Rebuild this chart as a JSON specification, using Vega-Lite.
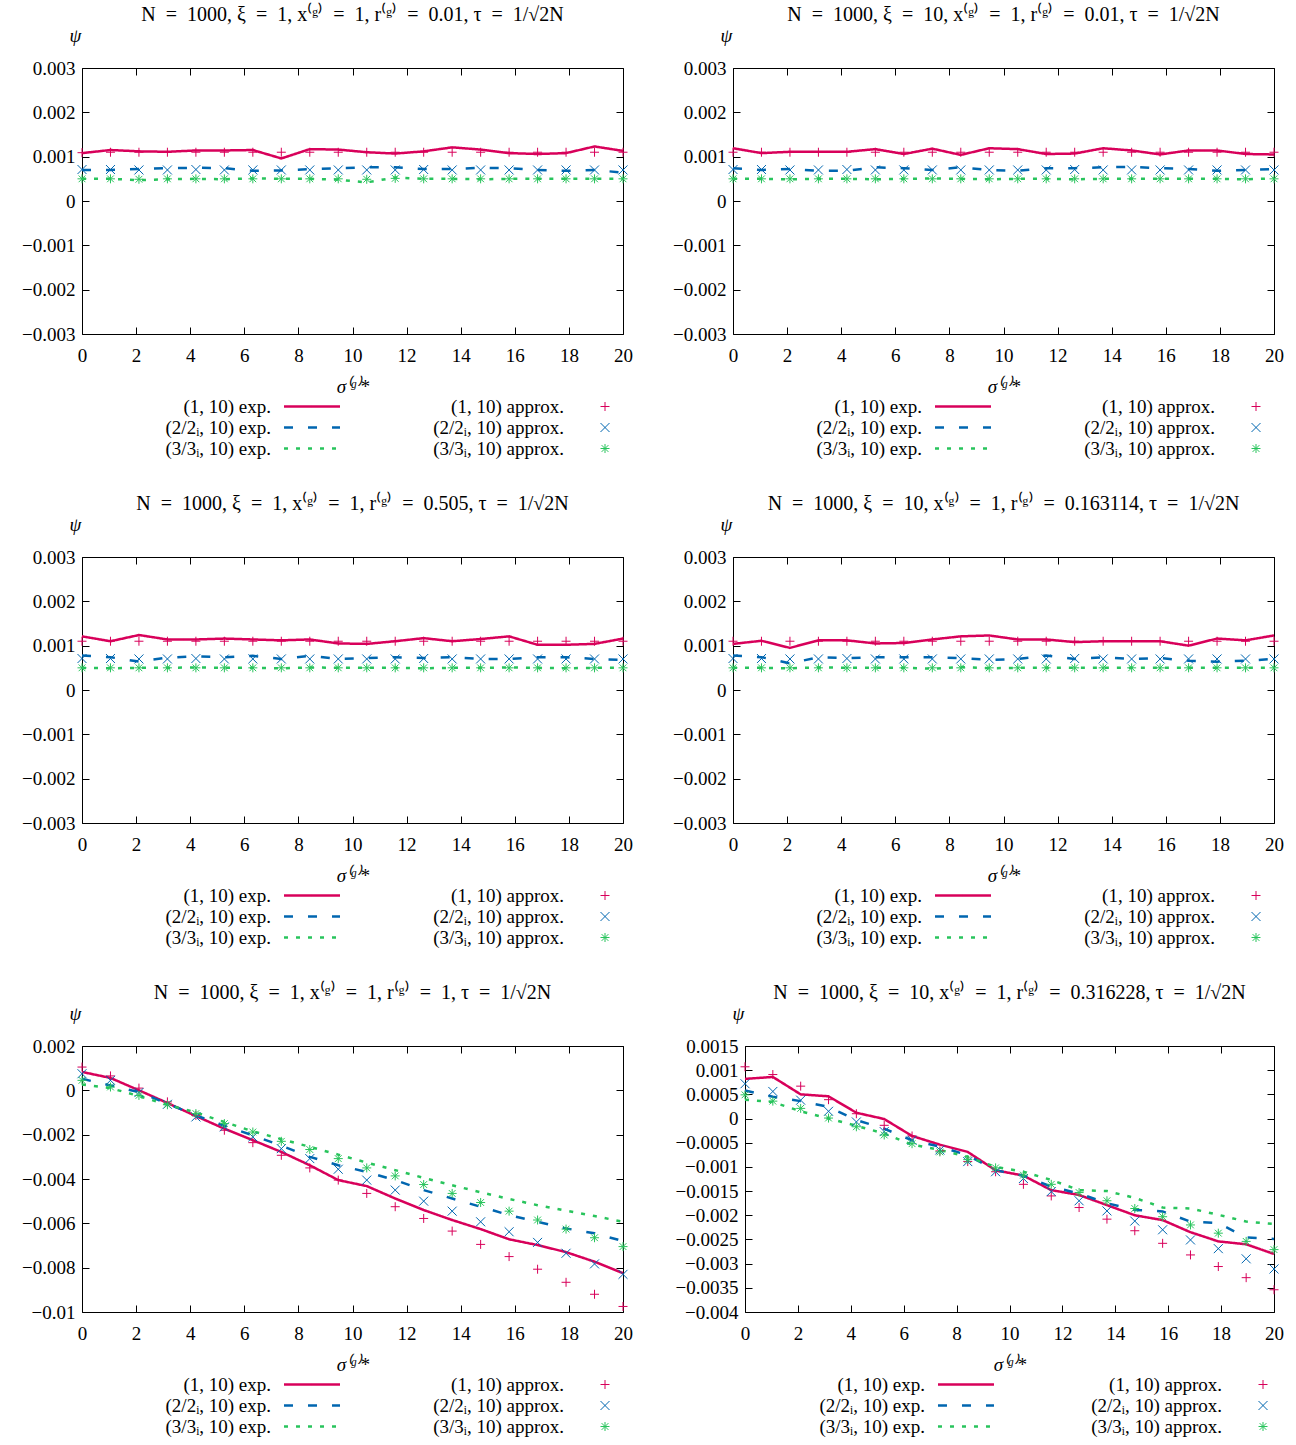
{
  "$schema": "https://vega.github.io/schema/vega-lite/v6.json",
  "padding": {"left": 21, "top": 4, "right": 5, "bottom": 5},
  "config": {
    "font": "Liberation Serif",
    "view": {"stroke": "black", "strokeWidth": 1},
    "axis": {"domain": false, "grid": false, "tickSize": -7, "tickColor": "black", "tickWidth": 1, "labelFont": "Liberation Serif", "labelFontSize": 19, "labelColor": "black", "labelPadding": 14, "labelFlush": false, "titleFont": "Liberation Serif", "titleFontSize": 19, "titleFontWeight": "normal", "titleColor": "black"},
    "axisLeft": {"titleAngle": 0, "titleX": -7, "titleY": -33, "titleAlign": "center", "titleBaseline": "middle", "titleFontStyle": "italic"},
    "axisBottom": {"labelPadding": 19, "titlePadding": 12, "titleFontStyle": "italic"},
    "title": {"font": "Liberation Serif", "fontSize": 20, "fontWeight": "normal", "color": "black", "anchor": "middle", "frame": "group", "offset": 1},
    "text": {"font": "Liberation Serif", "fontSize": 19, "color": "black"}
  },
  "datasets": {
    "p1": [
      {"x": 0, "e1": 0.00108, "e2": 0.0007, "e3": 0.0005, "a1": 0.00109, "a2": 0.00071, "a3": 0.0005},
      {"x": 1.0526, "e1": 0.00115, "e2": 0.0007, "e3": 0.0005, "a1": 0.0011, "a2": 0.00071, "a3": 0.0005},
      {"x": 2.1053, "e1": 0.00112, "e2": 0.00072, "e3": 0.00047, "a1": 0.0011, "a2": 0.0007, "a3": 0.00049},
      {"x": 3.1579, "e1": 0.00111, "e2": 0.00074, "e3": 0.00049, "a1": 0.0011, "a2": 0.0007, "a3": 0.0005},
      {"x": 4.2105, "e1": 0.00114, "e2": 0.00075, "e3": 0.0005, "a1": 0.0011, "a2": 0.00071, "a3": 0.0005},
      {"x": 5.2632, "e1": 0.00114, "e2": 0.00074, "e3": 0.00049, "a1": 0.0011, "a2": 0.0007, "a3": 0.0005},
      {"x": 6.3158, "e1": 0.00115, "e2": 0.00068, "e3": 0.00051, "a1": 0.0011, "a2": 0.0007, "a3": 0.0005},
      {"x": 7.3684, "e1": 0.00096, "e2": 0.00069, "e3": 0.0005, "a1": 0.0011, "a2": 0.0007, "a3": 0.0005},
      {"x": 8.4211, "e1": 0.00117, "e2": 0.00072, "e3": 0.0005, "a1": 0.0011, "a2": 0.0007, "a3": 0.0005},
      {"x": 9.4737, "e1": 0.00116, "e2": 0.00074, "e3": 0.00048, "a1": 0.0011, "a2": 0.0007, "a3": 0.0005},
      {"x": 10.5263, "e1": 0.0011, "e2": 0.00076, "e3": 0.00042, "a1": 0.0011, "a2": 0.0007, "a3": 0.00049},
      {"x": 11.5789, "e1": 0.00107, "e2": 0.00076, "e3": 0.00053, "a1": 0.0011, "a2": 0.0007, "a3": 0.00051},
      {"x": 12.6316, "e1": 0.00112, "e2": 0.00072, "e3": 0.0005, "a1": 0.0011, "a2": 0.00071, "a3": 0.0005},
      {"x": 13.6842, "e1": 0.00121, "e2": 0.00072, "e3": 0.0005, "a1": 0.0011, "a2": 0.0007, "a3": 0.0005},
      {"x": 14.7368, "e1": 0.00116, "e2": 0.00075, "e3": 0.00049, "a1": 0.0011, "a2": 0.0007, "a3": 0.0005},
      {"x": 15.7895, "e1": 0.00108, "e2": 0.00074, "e3": 0.0005, "a1": 0.0011, "a2": 0.0007, "a3": 0.0005},
      {"x": 16.8421, "e1": 0.00106, "e2": 0.0007, "e3": 0.0005, "a1": 0.0011, "a2": 0.0007, "a3": 0.0005},
      {"x": 17.8947, "e1": 0.00108, "e2": 0.00068, "e3": 0.0005, "a1": 0.0011, "a2": 0.0007, "a3": 0.0005},
      {"x": 18.9474, "e1": 0.00123, "e2": 0.0007, "e3": 0.0005, "a1": 0.0011, "a2": 0.0007, "a3": 0.0005},
      {"x": 20, "e1": 0.00113, "e2": 0.00064, "e3": 0.0005, "a1": 0.0011, "a2": 0.0007, "a3": 0.0005}
    ],
    "p2": [
      {"x": 0, "e1": 0.00119, "e2": 0.00074, "e3": 0.0005, "a1": 0.0011, "a2": 0.00071, "a3": 0.0005},
      {"x": 1.0526, "e1": 0.00108, "e2": 0.0007, "e3": 0.0005, "a1": 0.0011, "a2": 0.00071, "a3": 0.0005},
      {"x": 2.1053, "e1": 0.00111, "e2": 0.00072, "e3": 0.00049, "a1": 0.0011, "a2": 0.0007, "a3": 0.0005},
      {"x": 3.1579, "e1": 0.00111, "e2": 0.00068, "e3": 0.0005, "a1": 0.0011, "a2": 0.0007, "a3": 0.0005},
      {"x": 4.2105, "e1": 0.00111, "e2": 0.00068, "e3": 0.0005, "a1": 0.0011, "a2": 0.00071, "a3": 0.0005},
      {"x": 5.2632, "e1": 0.00117, "e2": 0.00076, "e3": 0.00049, "a1": 0.0011, "a2": 0.0007, "a3": 0.0005},
      {"x": 6.3158, "e1": 0.00106, "e2": 0.00074, "e3": 0.0005, "a1": 0.0011, "a2": 0.0007, "a3": 0.0005},
      {"x": 7.3684, "e1": 0.00118, "e2": 0.0007, "e3": 0.00051, "a1": 0.0011, "a2": 0.0007, "a3": 0.0005},
      {"x": 8.4211, "e1": 0.00104, "e2": 0.00076, "e3": 0.0005, "a1": 0.0011, "a2": 0.0007, "a3": 0.0005},
      {"x": 9.4737, "e1": 0.00119, "e2": 0.0007, "e3": 0.00049, "a1": 0.0011, "a2": 0.0007, "a3": 0.0005},
      {"x": 10.5263, "e1": 0.00117, "e2": 0.00068, "e3": 0.0005, "a1": 0.0011, "a2": 0.0007, "a3": 0.0005},
      {"x": 11.5789, "e1": 0.00106, "e2": 0.00074, "e3": 0.0005, "a1": 0.0011, "a2": 0.0007, "a3": 0.0005},
      {"x": 12.6316, "e1": 0.00107, "e2": 0.00074, "e3": 0.00049, "a1": 0.0011, "a2": 0.00071, "a3": 0.0005},
      {"x": 13.6842, "e1": 0.00119, "e2": 0.00076, "e3": 0.0005, "a1": 0.0011, "a2": 0.0007, "a3": 0.0005},
      {"x": 14.7368, "e1": 0.00114, "e2": 0.00077, "e3": 0.0005, "a1": 0.0011, "a2": 0.0007, "a3": 0.0005},
      {"x": 15.7895, "e1": 0.00105, "e2": 0.00074, "e3": 0.0005, "a1": 0.0011, "a2": 0.0007, "a3": 0.0005},
      {"x": 16.8421, "e1": 0.00114, "e2": 0.00072, "e3": 0.0005, "a1": 0.0011, "a2": 0.0007, "a3": 0.0005},
      {"x": 17.8947, "e1": 0.00114, "e2": 0.00068, "e3": 0.0005, "a1": 0.0011, "a2": 0.0007, "a3": 0.0005},
      {"x": 18.9474, "e1": 0.00106, "e2": 0.0007, "e3": 0.00049, "a1": 0.0011, "a2": 0.0007, "a3": 0.0005},
      {"x": 20, "e1": 0.00105, "e2": 0.00072, "e3": 0.00051, "a1": 0.0011, "a2": 0.0007, "a3": 0.0005}
    ],
    "p3": [
      {"x": 0, "e1": 0.00121, "e2": 0.00078, "e3": 0.0005, "a1": 0.0011, "a2": 0.00071, "a3": 0.0005},
      {"x": 1.0526, "e1": 0.0011, "e2": 0.00074, "e3": 0.00049, "a1": 0.0011, "a2": 0.00071, "a3": 0.0005},
      {"x": 2.1053, "e1": 0.00124, "e2": 0.00064, "e3": 0.0005, "a1": 0.0011, "a2": 0.0007, "a3": 0.0005},
      {"x": 3.1579, "e1": 0.00114, "e2": 0.00073, "e3": 0.0005, "a1": 0.0011, "a2": 0.0007, "a3": 0.0005},
      {"x": 4.2105, "e1": 0.00114, "e2": 0.00076, "e3": 0.00051, "a1": 0.0011, "a2": 0.00071, "a3": 0.0005},
      {"x": 5.2632, "e1": 0.00116, "e2": 0.00074, "e3": 0.0005, "a1": 0.0011, "a2": 0.0007, "a3": 0.0005},
      {"x": 6.3158, "e1": 0.00114, "e2": 0.00077, "e3": 0.0005, "a1": 0.0011, "a2": 0.0007, "a3": 0.0005},
      {"x": 7.3684, "e1": 0.00112, "e2": 0.0007, "e3": 0.00049, "a1": 0.0011, "a2": 0.0007, "a3": 0.0005},
      {"x": 8.4211, "e1": 0.00114, "e2": 0.00077, "e3": 0.00051, "a1": 0.0011, "a2": 0.0007, "a3": 0.0005},
      {"x": 9.4737, "e1": 0.00105, "e2": 0.0007, "e3": 0.0005, "a1": 0.0011, "a2": 0.0007, "a3": 0.0005},
      {"x": 10.5263, "e1": 0.00104, "e2": 0.00072, "e3": 0.0005, "a1": 0.0011, "a2": 0.0007, "a3": 0.0005},
      {"x": 11.5789, "e1": 0.0011, "e2": 0.00074, "e3": 0.0005, "a1": 0.0011, "a2": 0.0007, "a3": 0.0005},
      {"x": 12.6316, "e1": 0.00117, "e2": 0.00072, "e3": 0.00049, "a1": 0.0011, "a2": 0.00071, "a3": 0.0005},
      {"x": 13.6842, "e1": 0.0011, "e2": 0.00074, "e3": 0.0005, "a1": 0.0011, "a2": 0.0007, "a3": 0.0005},
      {"x": 14.7368, "e1": 0.00115, "e2": 0.0007, "e3": 0.0005, "a1": 0.0011, "a2": 0.0007, "a3": 0.0005},
      {"x": 15.7895, "e1": 0.00121, "e2": 0.0007, "e3": 0.00051, "a1": 0.0011, "a2": 0.0007, "a3": 0.0005},
      {"x": 16.8421, "e1": 0.00102, "e2": 0.00074, "e3": 0.0005, "a1": 0.0011, "a2": 0.0007, "a3": 0.0005},
      {"x": 17.8947, "e1": 0.00102, "e2": 0.00074, "e3": 0.00049, "a1": 0.0011, "a2": 0.0007, "a3": 0.0005},
      {"x": 18.9474, "e1": 0.00104, "e2": 0.0007, "e3": 0.0005, "a1": 0.0011, "a2": 0.0007, "a3": 0.0005},
      {"x": 20, "e1": 0.00116, "e2": 0.00068, "e3": 0.0005, "a1": 0.0011, "a2": 0.0007, "a3": 0.0005}
    ],
    "p4": [
      {"x": 0, "e1": 0.00104, "e2": 0.00078, "e3": 0.0005, "a1": 0.0011, "a2": 0.00071, "a3": 0.0005},
      {"x": 1.0526, "e1": 0.00111, "e2": 0.00074, "e3": 0.0005, "a1": 0.0011, "a2": 0.00071, "a3": 0.0005},
      {"x": 2.1053, "e1": 0.00095, "e2": 0.0006, "e3": 0.00049, "a1": 0.0011, "a2": 0.0007, "a3": 0.0005},
      {"x": 3.1579, "e1": 0.00112, "e2": 0.00074, "e3": 0.00051, "a1": 0.0011, "a2": 0.0007, "a3": 0.0005},
      {"x": 4.2105, "e1": 0.00112, "e2": 0.00072, "e3": 0.0005, "a1": 0.0011, "a2": 0.00071, "a3": 0.0005},
      {"x": 5.2632, "e1": 0.00105, "e2": 0.00074, "e3": 0.0005, "a1": 0.0011, "a2": 0.0007, "a3": 0.0005},
      {"x": 6.3158, "e1": 0.00106, "e2": 0.00074, "e3": 0.0005, "a1": 0.0011, "a2": 0.0007, "a3": 0.0005},
      {"x": 7.3684, "e1": 0.00114, "e2": 0.00074, "e3": 0.00048, "a1": 0.0011, "a2": 0.0007, "a3": 0.0005},
      {"x": 8.4211, "e1": 0.00121, "e2": 0.00072, "e3": 0.00052, "a1": 0.0011, "a2": 0.0007, "a3": 0.0005},
      {"x": 9.4737, "e1": 0.00123, "e2": 0.00068, "e3": 0.00049, "a1": 0.0011, "a2": 0.0007, "a3": 0.0005},
      {"x": 10.5263, "e1": 0.00114, "e2": 0.0007, "e3": 0.0005, "a1": 0.0011, "a2": 0.0007, "a3": 0.0005},
      {"x": 11.5789, "e1": 0.00114, "e2": 0.00078, "e3": 0.0005, "a1": 0.0011, "a2": 0.0007, "a3": 0.0005},
      {"x": 12.6316, "e1": 0.00108, "e2": 0.0007, "e3": 0.0005, "a1": 0.0011, "a2": 0.00071, "a3": 0.0005},
      {"x": 13.6842, "e1": 0.0011, "e2": 0.00074, "e3": 0.0005, "a1": 0.0011, "a2": 0.0007, "a3": 0.0005},
      {"x": 14.7368, "e1": 0.0011, "e2": 0.0007, "e3": 0.0005, "a1": 0.0011, "a2": 0.0007, "a3": 0.0005},
      {"x": 15.7895, "e1": 0.0011, "e2": 0.00072, "e3": 0.0005, "a1": 0.0011, "a2": 0.0007, "a3": 0.0005},
      {"x": 16.8421, "e1": 0.001, "e2": 0.00066, "e3": 0.0005, "a1": 0.0011, "a2": 0.0007, "a3": 0.0005},
      {"x": 17.8947, "e1": 0.00116, "e2": 0.00064, "e3": 0.0005, "a1": 0.0011, "a2": 0.0007, "a3": 0.0005},
      {"x": 18.9474, "e1": 0.00112, "e2": 0.00066, "e3": 0.0005, "a1": 0.0011, "a2": 0.0007, "a3": 0.0005},
      {"x": 20, "e1": 0.00123, "e2": 0.0007, "e3": 0.0005, "a1": 0.0011, "a2": 0.0007, "a3": 0.0005}
    ],
    "p5": [
      {"x": 0, "e1": 0.00083, "e2": 0.00052, "e3": 0.00026, "a1": 0.00105, "a2": 0.00075, "a3": 0.00045},
      {"x": 1.0526, "e1": 0.00056, "e2": 0.00022, "e3": 0.0001, "a1": 0.00065, "a2": 0.00045, "a3": 0.00015},
      {"x": 2.1053, "e1": 0.0, "e2": -0.00008, "e3": -0.00026, "a1": 0.0001, "a2": -0.0001, "a3": -0.00023},
      {"x": 3.1579, "e1": -0.00057, "e2": -0.0006, "e3": -0.00065, "a1": -0.00052, "a2": -0.00063, "a3": -0.00065},
      {"x": 4.2105, "e1": -0.00116, "e2": -0.00113, "e3": -0.001, "a1": -0.00113, "a2": -0.0012, "a3": -0.00105},
      {"x": 5.2632, "e1": -0.00173, "e2": -0.0016, "e3": -0.00143, "a1": -0.0018, "a2": -0.00165, "a3": -0.0015},
      {"x": 6.3158, "e1": -0.00225, "e2": -0.00203, "e3": -0.00185, "a1": -0.00236, "a2": -0.0021, "a3": -0.00188},
      {"x": 7.3684, "e1": -0.00278, "e2": -0.0025, "e3": -0.0022, "a1": -0.00293, "a2": -0.00263, "a3": -0.0023},
      {"x": 8.4211, "e1": -0.00338, "e2": -0.003, "e3": -0.00255, "a1": -0.0035, "a2": -0.00308, "a3": -0.00267},
      {"x": 9.4737, "e1": -0.00405, "e2": -0.00338, "e3": -0.0029, "a1": -0.00405, "a2": -0.00356, "a3": -0.00308},
      {"x": 10.5263, "e1": -0.00432, "e2": -0.00368, "e3": -0.00326, "a1": -0.00465, "a2": -0.00405, "a3": -0.0035},
      {"x": 11.5789, "e1": -0.00488, "e2": -0.00405, "e3": -0.0036, "a1": -0.00525, "a2": -0.0045, "a3": -0.00386},
      {"x": 12.6316, "e1": -0.0054, "e2": -0.0045, "e3": -0.00395, "a1": -0.00578, "a2": -0.005, "a3": -0.00425},
      {"x": 13.6842, "e1": -0.00585, "e2": -0.00488, "e3": -0.00428, "a1": -0.00635, "a2": -0.00545, "a3": -0.00465},
      {"x": 14.7368, "e1": -0.00626, "e2": -0.00525, "e3": -0.0046, "a1": -0.00695, "a2": -0.00593, "a3": -0.00506},
      {"x": 15.7895, "e1": -0.00672, "e2": -0.00563, "e3": -0.0049, "a1": -0.0075, "a2": -0.00638, "a3": -0.00545},
      {"x": 16.8421, "e1": -0.00698, "e2": -0.00593, "e3": -0.00518, "a1": -0.00807, "a2": -0.00686, "a3": -0.00585},
      {"x": 17.8947, "e1": -0.0073, "e2": -0.00623, "e3": -0.00543, "a1": -0.00866, "a2": -0.00735, "a3": -0.00626},
      {"x": 18.9474, "e1": -0.00773, "e2": -0.00645, "e3": -0.00567, "a1": -0.0092, "a2": -0.00783, "a3": -0.00665},
      {"x": 20, "e1": -0.00825, "e2": -0.0068, "e3": -0.00593, "a1": -0.00975, "a2": -0.0083, "a3": -0.00705}
    ],
    "p6": [
      {"x": 0, "e1": 0.00082, "e2": 0.00058, "e3": 0.00039, "a1": 0.00107, "a2": 0.00072, "a3": 0.00049},
      {"x": 1.0526, "e1": 0.00086, "e2": 0.00045, "e3": 0.00034, "a1": 0.00091, "a2": 0.00056, "a3": 0.00036},
      {"x": 2.1053, "e1": 0.0005, "e2": 0.00036, "e3": 0.00015, "a1": 0.00067, "a2": 0.00038, "a3": 0.00021},
      {"x": 3.1579, "e1": 0.00046, "e2": 0.00024, "e3": 0.0, "a1": 0.00039, "a2": 0.00015, "a3": 0.00001},
      {"x": 4.2105, "e1": 0.00012, "e2": -0.00003, "e3": -0.00015, "a1": 0.0001, "a2": -0.00007, "a3": -0.00017},
      {"x": 5.2632, "e1": -0.00001, "e2": -0.00021, "e3": -0.00031, "a1": -0.00014, "a2": -0.00027, "a3": -0.00034},
      {"x": 6.3158, "e1": -0.00036, "e2": -0.00045, "e3": -0.00054, "a1": -0.00036, "a2": -0.00045, "a3": -0.00052},
      {"x": 7.3684, "e1": -0.00054, "e2": -0.00058, "e3": -0.00065, "a1": -0.00067, "a2": -0.00065, "a3": -0.00069},
      {"x": 8.4211, "e1": -0.00069, "e2": -0.00076, "e3": -0.00079, "a1": -0.00089, "a2": -0.00089, "a3": -0.00085},
      {"x": 9.4737, "e1": -0.00107, "e2": -0.00107, "e3": -0.001, "a1": -0.0011, "a2": -0.0011, "a3": -0.00102},
      {"x": 10.5263, "e1": -0.00118, "e2": -0.00118, "e3": -0.0011, "a1": -0.00136, "a2": -0.00124, "a3": -0.00117},
      {"x": 11.5789, "e1": -0.00148, "e2": -0.00141, "e3": -0.00127, "a1": -0.0016, "a2": -0.00151, "a3": -0.00136},
      {"x": 12.6316, "e1": -0.00158, "e2": -0.00155, "e3": -0.00148, "a1": -0.00184, "a2": -0.0017, "a3": -0.00153},
      {"x": 13.6842, "e1": -0.00179, "e2": -0.00175, "e3": -0.0015, "a1": -0.00208, "a2": -0.00191, "a3": -0.0017},
      {"x": 14.7368, "e1": -0.002, "e2": -0.00189, "e3": -0.00164, "a1": -0.00232, "a2": -0.00212, "a3": -0.00186},
      {"x": 15.7895, "e1": -0.0021, "e2": -0.00192, "e3": -0.00184, "a1": -0.00258, "a2": -0.0023, "a3": -0.00203},
      {"x": 16.8421, "e1": -0.00235, "e2": -0.00213, "e3": -0.00186, "a1": -0.00282, "a2": -0.00251, "a3": -0.0022},
      {"x": 17.8947, "e1": -0.00254, "e2": -0.00216, "e3": -0.00199, "a1": -0.00306, "a2": -0.00269, "a3": -0.00237},
      {"x": 18.9474, "e1": -0.0026, "e2": -0.00246, "e3": -0.00213, "a1": -0.00329, "a2": -0.0029, "a3": -0.00254},
      {"x": 20, "e1": -0.0028, "e2": -0.00249, "e3": -0.00218, "a1": -0.00354, "a2": -0.00311, "a3": -0.00271}
    ],
    "key": [
      {"col": 0, "row": 0, "series": "e1", "label": "(1, 10) exp."},
      {"col": 0, "row": 1, "series": "e2", "label": "(2/2ᵢ, 10) exp."},
      {"col": 0, "row": 2, "series": "e3", "label": "(3/3ᵢ, 10) exp."},
      {"col": 1, "row": 0, "series": "a1", "label": "(1, 10) approx."},
      {"col": 1, "row": 1, "series": "a2", "label": "(2/2ᵢ, 10) approx."},
      {"col": 1, "row": 2, "series": "a3", "label": "(3/3ᵢ, 10) approx."}
    ]
  },
  "spacing": 34,
  "vconcat": [
    {"spacing": 39, "hconcat": [
      {"bounds": "flush", "spacing": 62, "vconcat": [
        {"width": 541, "height": 266, "title": "N\u2002=\u20021000, ξ\u2002=\u20021, x⁽ᵍ⁾\u2002=\u20021, r⁽ᵍ⁾\u2002=\u20020.01, τ\u2002=\u20021/√2N", "data": {"name": "p1"},
         "layer": [
          {"transform": [{"fold": ["e1", "e2", "e3"], "as": ["series", "v"]}], "mark": {"type": "line", "strokeWidth": 2.5},
           "encoding": {
            "x": {"field": "x", "type": "quantitative", "scale": {"domain": [0, 20]}, "axis": {"orient": "bottom", "values": [0, 2, 4, 6, 8, 10, 12, 14, 16, 18, 20], "title": "σ⁽ᵍ⁾*"}},
            "y": {"field": "v", "type": "quantitative", "scale": {"domain": [-0.003, 0.003]}, "axis": {"orient": "left", "values": [-0.003, -0.002, -0.001, 0, 0.001, 0.002, 0.003], "format": "~f", "title": "ψ"}},
            "color": {"field": "series", "type": "nominal", "scale": {"domain": ["e1", "e2", "e3", "a1", "a2", "a3"], "range": ["#d8005a", "#0066b0", "#28c45c", "#d8005a", "#0066b0", "#28c45c"]}, "legend": null},
            "strokeDash": {"field": "series", "type": "nominal", "scale": {"domain": ["e1", "e2", "e3"], "range": [[1, 0], [9, 15], [4, 8]]}, "legend": null}}},
          {"transform": [{"fold": ["a1", "a2", "a3"], "as": ["series", "v"]}], "mark": {"type": "point", "size": 81, "strokeWidth": 1, "opacity": 1},
           "encoding": {
            "x": {"field": "x", "type": "quantitative", "scale": {"domain": [0, 20]}, "axis": {"orient": "top", "values": [0, 2, 4, 6, 8, 10, 12, 14, 16, 18, 20], "labels": false, "title": null}},
            "y": {"field": "v", "type": "quantitative", "scale": {"domain": [-0.003, 0.003]}, "axis": {"orient": "right", "values": [-0.003, -0.002, -0.001, 0, 0.001, 0.002, 0.003], "labels": false, "title": null}},
            "color": {"field": "series", "type": "nominal", "scale": {"domain": ["e1", "e2", "e3", "a1", "a2", "a3"], "range": ["#d8005a", "#0066b0", "#28c45c", "#d8005a", "#0066b0", "#28c45c"]}, "legend": null},
            "shape": {"field": "series", "type": "nominal", "scale": {"domain": ["a1", "a2", "a3"], "range": ["M-1,0L1,0M0,-1L0,1", "M-1,-1L1,1M-1,1L1,-1", "M-1,0L1,0M0,-1L0,1M-0.75,-0.75L0.75,0.75M-0.75,0.75L0.75,-0.75"]}, "legend": null}}}
         ],
         "resolve": {"axis": {"x": "independent", "y": "independent"}}},
        {"width": 541, "height": 63, "view": {"stroke": null}, "data": {"name": "key"},
         "encoding": {
          "x": {"field": "col", "type": "quantitative", "scale": {"domain": [-0.785, 1.0614]}, "axis": null},
          "y": {"field": "row", "type": "quantitative", "scale": {"domain": [2.5, -0.5]}, "axis": null}},
         "layer": [
          {"mark": {"type": "text", "align": "right", "baseline": "middle", "dx": -41}, "encoding": {"text": {"field": "label"}}},
          {"transform": [{"filter": {"field": "col", "equal": 0}}], "mark": {"type": "point", "shape": "stroke", "size": 3136, "strokeWidth": 2.5, "opacity": 1},
           "encoding": {
            "color": {"field": "series", "type": "nominal", "scale": {"domain": ["e1", "e2", "e3", "a1", "a2", "a3"], "range": ["#d8005a", "#0066b0", "#28c45c", "#d8005a", "#0066b0", "#28c45c"]}, "legend": null},
            "strokeDash": {"field": "series", "type": "nominal", "scale": {"domain": ["e1", "e2", "e3"], "range": [[1, 0], [9, 15], [4, 8]]}, "legend": null}}},
          {"transform": [{"filter": {"field": "col", "equal": 1}}], "mark": {"type": "point", "size": 81, "strokeWidth": 1, "opacity": 1},
           "encoding": {
            "color": {"field": "series", "type": "nominal", "scale": {"domain": ["e1", "e2", "e3", "a1", "a2", "a3"], "range": ["#d8005a", "#0066b0", "#28c45c", "#d8005a", "#0066b0", "#28c45c"]}, "legend": null},
            "shape": {"field": "series", "type": "nominal", "scale": {"domain": ["a1", "a2", "a3"], "range": ["M-1,0L1,0M0,-1L0,1", "M-1,-1L1,1M-1,1L1,-1", "M-1,0L1,0M0,-1L0,1M-0.75,-0.75L0.75,0.75M-0.75,0.75L0.75,-0.75"]}, "legend": null}}}
         ]}
      ]},
      {"bounds": "flush", "spacing": 62, "vconcat": [
        {"width": 541, "height": 266, "title": "N\u2002=\u20021000, ξ\u2002=\u200210, x⁽ᵍ⁾\u2002=\u20021, r⁽ᵍ⁾\u2002=\u20020.01, τ\u2002=\u20021/√2N", "data": {"name": "p2"},
         "layer": [
          {"transform": [{"fold": ["e1", "e2", "e3"], "as": ["series", "v"]}], "mark": {"type": "line", "strokeWidth": 2.5},
           "encoding": {
            "x": {"field": "x", "type": "quantitative", "scale": {"domain": [0, 20]}, "axis": {"orient": "bottom", "values": [0, 2, 4, 6, 8, 10, 12, 14, 16, 18, 20], "title": "σ⁽ᵍ⁾*"}},
            "y": {"field": "v", "type": "quantitative", "scale": {"domain": [-0.003, 0.003]}, "axis": {"orient": "left", "values": [-0.003, -0.002, -0.001, 0, 0.001, 0.002, 0.003], "format": "~f", "title": "ψ"}},
            "color": {"field": "series", "type": "nominal", "scale": {"domain": ["e1", "e2", "e3", "a1", "a2", "a3"], "range": ["#d8005a", "#0066b0", "#28c45c", "#d8005a", "#0066b0", "#28c45c"]}, "legend": null},
            "strokeDash": {"field": "series", "type": "nominal", "scale": {"domain": ["e1", "e2", "e3"], "range": [[1, 0], [9, 15], [4, 8]]}, "legend": null}}},
          {"transform": [{"fold": ["a1", "a2", "a3"], "as": ["series", "v"]}], "mark": {"type": "point", "size": 81, "strokeWidth": 1, "opacity": 1},
           "encoding": {
            "x": {"field": "x", "type": "quantitative", "scale": {"domain": [0, 20]}, "axis": {"orient": "top", "values": [0, 2, 4, 6, 8, 10, 12, 14, 16, 18, 20], "labels": false, "title": null}},
            "y": {"field": "v", "type": "quantitative", "scale": {"domain": [-0.003, 0.003]}, "axis": {"orient": "right", "values": [-0.003, -0.002, -0.001, 0, 0.001, 0.002, 0.003], "labels": false, "title": null}},
            "color": {"field": "series", "type": "nominal", "scale": {"domain": ["e1", "e2", "e3", "a1", "a2", "a3"], "range": ["#d8005a", "#0066b0", "#28c45c", "#d8005a", "#0066b0", "#28c45c"]}, "legend": null},
            "shape": {"field": "series", "type": "nominal", "scale": {"domain": ["a1", "a2", "a3"], "range": ["M-1,0L1,0M0,-1L0,1", "M-1,-1L1,1M-1,1L1,-1", "M-1,0L1,0M0,-1L0,1M-0.75,-0.75L0.75,0.75M-0.75,0.75L0.75,-0.75"]}, "legend": null}}}
         ],
         "resolve": {"axis": {"x": "independent", "y": "independent"}}},
        {"width": 541, "height": 63, "view": {"stroke": null}, "data": {"name": "key"},
         "encoding": {
          "x": {"field": "col", "type": "quantitative", "scale": {"domain": [-0.785, 1.0614]}, "axis": null},
          "y": {"field": "row", "type": "quantitative", "scale": {"domain": [2.5, -0.5]}, "axis": null}},
         "layer": [
          {"mark": {"type": "text", "align": "right", "baseline": "middle", "dx": -41}, "encoding": {"text": {"field": "label"}}},
          {"transform": [{"filter": {"field": "col", "equal": 0}}], "mark": {"type": "point", "shape": "stroke", "size": 3136, "strokeWidth": 2.5, "opacity": 1},
           "encoding": {
            "color": {"field": "series", "type": "nominal", "scale": {"domain": ["e1", "e2", "e3", "a1", "a2", "a3"], "range": ["#d8005a", "#0066b0", "#28c45c", "#d8005a", "#0066b0", "#28c45c"]}, "legend": null},
            "strokeDash": {"field": "series", "type": "nominal", "scale": {"domain": ["e1", "e2", "e3"], "range": [[1, 0], [9, 15], [4, 8]]}, "legend": null}}},
          {"transform": [{"filter": {"field": "col", "equal": 1}}], "mark": {"type": "point", "size": 81, "strokeWidth": 1, "opacity": 1},
           "encoding": {
            "color": {"field": "series", "type": "nominal", "scale": {"domain": ["e1", "e2", "e3", "a1", "a2", "a3"], "range": ["#d8005a", "#0066b0", "#28c45c", "#d8005a", "#0066b0", "#28c45c"]}, "legend": null},
            "shape": {"field": "series", "type": "nominal", "scale": {"domain": ["a1", "a2", "a3"], "range": ["M-1,0L1,0M0,-1L0,1", "M-1,-1L1,1M-1,1L1,-1", "M-1,0L1,0M0,-1L0,1M-0.75,-0.75L0.75,0.75M-0.75,0.75L0.75,-0.75"]}, "legend": null}}}
         ]}
      ]}
    ]},
    {"spacing": 39, "hconcat": [
      {"bounds": "flush", "spacing": 62, "vconcat": [
        {"width": 541, "height": 266, "title": "N\u2002=\u20021000, ξ\u2002=\u20021, x⁽ᵍ⁾\u2002=\u20021, r⁽ᵍ⁾\u2002=\u20020.505, τ\u2002=\u20021/√2N", "data": {"name": "p3"},
         "layer": [
          {"transform": [{"fold": ["e1", "e2", "e3"], "as": ["series", "v"]}], "mark": {"type": "line", "strokeWidth": 2.5},
           "encoding": {
            "x": {"field": "x", "type": "quantitative", "scale": {"domain": [0, 20]}, "axis": {"orient": "bottom", "values": [0, 2, 4, 6, 8, 10, 12, 14, 16, 18, 20], "title": "σ⁽ᵍ⁾*"}},
            "y": {"field": "v", "type": "quantitative", "scale": {"domain": [-0.003, 0.003]}, "axis": {"orient": "left", "values": [-0.003, -0.002, -0.001, 0, 0.001, 0.002, 0.003], "format": "~f", "title": "ψ"}},
            "color": {"field": "series", "type": "nominal", "scale": {"domain": ["e1", "e2", "e3", "a1", "a2", "a3"], "range": ["#d8005a", "#0066b0", "#28c45c", "#d8005a", "#0066b0", "#28c45c"]}, "legend": null},
            "strokeDash": {"field": "series", "type": "nominal", "scale": {"domain": ["e1", "e2", "e3"], "range": [[1, 0], [9, 15], [4, 8]]}, "legend": null}}},
          {"transform": [{"fold": ["a1", "a2", "a3"], "as": ["series", "v"]}], "mark": {"type": "point", "size": 81, "strokeWidth": 1, "opacity": 1},
           "encoding": {
            "x": {"field": "x", "type": "quantitative", "scale": {"domain": [0, 20]}, "axis": {"orient": "top", "values": [0, 2, 4, 6, 8, 10, 12, 14, 16, 18, 20], "labels": false, "title": null}},
            "y": {"field": "v", "type": "quantitative", "scale": {"domain": [-0.003, 0.003]}, "axis": {"orient": "right", "values": [-0.003, -0.002, -0.001, 0, 0.001, 0.002, 0.003], "labels": false, "title": null}},
            "color": {"field": "series", "type": "nominal", "scale": {"domain": ["e1", "e2", "e3", "a1", "a2", "a3"], "range": ["#d8005a", "#0066b0", "#28c45c", "#d8005a", "#0066b0", "#28c45c"]}, "legend": null},
            "shape": {"field": "series", "type": "nominal", "scale": {"domain": ["a1", "a2", "a3"], "range": ["M-1,0L1,0M0,-1L0,1", "M-1,-1L1,1M-1,1L1,-1", "M-1,0L1,0M0,-1L0,1M-0.75,-0.75L0.75,0.75M-0.75,0.75L0.75,-0.75"]}, "legend": null}}}
         ],
         "resolve": {"axis": {"x": "independent", "y": "independent"}}},
        {"width": 541, "height": 63, "view": {"stroke": null}, "data": {"name": "key"},
         "encoding": {
          "x": {"field": "col", "type": "quantitative", "scale": {"domain": [-0.785, 1.0614]}, "axis": null},
          "y": {"field": "row", "type": "quantitative", "scale": {"domain": [2.5, -0.5]}, "axis": null}},
         "layer": [
          {"mark": {"type": "text", "align": "right", "baseline": "middle", "dx": -41}, "encoding": {"text": {"field": "label"}}},
          {"transform": [{"filter": {"field": "col", "equal": 0}}], "mark": {"type": "point", "shape": "stroke", "size": 3136, "strokeWidth": 2.5, "opacity": 1},
           "encoding": {
            "color": {"field": "series", "type": "nominal", "scale": {"domain": ["e1", "e2", "e3", "a1", "a2", "a3"], "range": ["#d8005a", "#0066b0", "#28c45c", "#d8005a", "#0066b0", "#28c45c"]}, "legend": null},
            "strokeDash": {"field": "series", "type": "nominal", "scale": {"domain": ["e1", "e2", "e3"], "range": [[1, 0], [9, 15], [4, 8]]}, "legend": null}}},
          {"transform": [{"filter": {"field": "col", "equal": 1}}], "mark": {"type": "point", "size": 81, "strokeWidth": 1, "opacity": 1},
           "encoding": {
            "color": {"field": "series", "type": "nominal", "scale": {"domain": ["e1", "e2", "e3", "a1", "a2", "a3"], "range": ["#d8005a", "#0066b0", "#28c45c", "#d8005a", "#0066b0", "#28c45c"]}, "legend": null},
            "shape": {"field": "series", "type": "nominal", "scale": {"domain": ["a1", "a2", "a3"], "range": ["M-1,0L1,0M0,-1L0,1", "M-1,-1L1,1M-1,1L1,-1", "M-1,0L1,0M0,-1L0,1M-0.75,-0.75L0.75,0.75M-0.75,0.75L0.75,-0.75"]}, "legend": null}}}
         ]}
      ]},
      {"bounds": "flush", "spacing": 62, "vconcat": [
        {"width": 541, "height": 266, "title": "N\u2002=\u20021000, ξ\u2002=\u200210, x⁽ᵍ⁾\u2002=\u20021, r⁽ᵍ⁾\u2002=\u20020.163114, τ\u2002=\u20021/√2N", "data": {"name": "p4"},
         "layer": [
          {"transform": [{"fold": ["e1", "e2", "e3"], "as": ["series", "v"]}], "mark": {"type": "line", "strokeWidth": 2.5},
           "encoding": {
            "x": {"field": "x", "type": "quantitative", "scale": {"domain": [0, 20]}, "axis": {"orient": "bottom", "values": [0, 2, 4, 6, 8, 10, 12, 14, 16, 18, 20], "title": "σ⁽ᵍ⁾*"}},
            "y": {"field": "v", "type": "quantitative", "scale": {"domain": [-0.003, 0.003]}, "axis": {"orient": "left", "values": [-0.003, -0.002, -0.001, 0, 0.001, 0.002, 0.003], "format": "~f", "title": "ψ"}},
            "color": {"field": "series", "type": "nominal", "scale": {"domain": ["e1", "e2", "e3", "a1", "a2", "a3"], "range": ["#d8005a", "#0066b0", "#28c45c", "#d8005a", "#0066b0", "#28c45c"]}, "legend": null},
            "strokeDash": {"field": "series", "type": "nominal", "scale": {"domain": ["e1", "e2", "e3"], "range": [[1, 0], [9, 15], [4, 8]]}, "legend": null}}},
          {"transform": [{"fold": ["a1", "a2", "a3"], "as": ["series", "v"]}], "mark": {"type": "point", "size": 81, "strokeWidth": 1, "opacity": 1},
           "encoding": {
            "x": {"field": "x", "type": "quantitative", "scale": {"domain": [0, 20]}, "axis": {"orient": "top", "values": [0, 2, 4, 6, 8, 10, 12, 14, 16, 18, 20], "labels": false, "title": null}},
            "y": {"field": "v", "type": "quantitative", "scale": {"domain": [-0.003, 0.003]}, "axis": {"orient": "right", "values": [-0.003, -0.002, -0.001, 0, 0.001, 0.002, 0.003], "labels": false, "title": null}},
            "color": {"field": "series", "type": "nominal", "scale": {"domain": ["e1", "e2", "e3", "a1", "a2", "a3"], "range": ["#d8005a", "#0066b0", "#28c45c", "#d8005a", "#0066b0", "#28c45c"]}, "legend": null},
            "shape": {"field": "series", "type": "nominal", "scale": {"domain": ["a1", "a2", "a3"], "range": ["M-1,0L1,0M0,-1L0,1", "M-1,-1L1,1M-1,1L1,-1", "M-1,0L1,0M0,-1L0,1M-0.75,-0.75L0.75,0.75M-0.75,0.75L0.75,-0.75"]}, "legend": null}}}
         ],
         "resolve": {"axis": {"x": "independent", "y": "independent"}}},
        {"width": 541, "height": 63, "view": {"stroke": null}, "data": {"name": "key"},
         "encoding": {
          "x": {"field": "col", "type": "quantitative", "scale": {"domain": [-0.785, 1.0614]}, "axis": null},
          "y": {"field": "row", "type": "quantitative", "scale": {"domain": [2.5, -0.5]}, "axis": null}},
         "layer": [
          {"mark": {"type": "text", "align": "right", "baseline": "middle", "dx": -41}, "encoding": {"text": {"field": "label"}}},
          {"transform": [{"filter": {"field": "col", "equal": 0}}], "mark": {"type": "point", "shape": "stroke", "size": 3136, "strokeWidth": 2.5, "opacity": 1},
           "encoding": {
            "color": {"field": "series", "type": "nominal", "scale": {"domain": ["e1", "e2", "e3", "a1", "a2", "a3"], "range": ["#d8005a", "#0066b0", "#28c45c", "#d8005a", "#0066b0", "#28c45c"]}, "legend": null},
            "strokeDash": {"field": "series", "type": "nominal", "scale": {"domain": ["e1", "e2", "e3"], "range": [[1, 0], [9, 15], [4, 8]]}, "legend": null}}},
          {"transform": [{"filter": {"field": "col", "equal": 1}}], "mark": {"type": "point", "size": 81, "strokeWidth": 1, "opacity": 1},
           "encoding": {
            "color": {"field": "series", "type": "nominal", "scale": {"domain": ["e1", "e2", "e3", "a1", "a2", "a3"], "range": ["#d8005a", "#0066b0", "#28c45c", "#d8005a", "#0066b0", "#28c45c"]}, "legend": null},
            "shape": {"field": "series", "type": "nominal", "scale": {"domain": ["a1", "a2", "a3"], "range": ["M-1,0L1,0M0,-1L0,1", "M-1,-1L1,1M-1,1L1,-1", "M-1,0L1,0M0,-1L0,1M-0.75,-0.75L0.75,0.75M-0.75,0.75L0.75,-0.75"]}, "legend": null}}}
         ]}
      ]}
    ]},
    {"spacing": 41, "hconcat": [
      {"bounds": "flush", "spacing": 62, "vconcat": [
        {"width": 541, "height": 266, "title": "N\u2002=\u20021000, ξ\u2002=\u20021, x⁽ᵍ⁾\u2002=\u20021, r⁽ᵍ⁾\u2002=\u20021, τ\u2002=\u20021/√2N", "data": {"name": "p5"},
         "layer": [
          {"transform": [{"fold": ["e1", "e2", "e3"], "as": ["series", "v"]}], "mark": {"type": "line", "strokeWidth": 2.5},
           "encoding": {
            "x": {"field": "x", "type": "quantitative", "scale": {"domain": [0, 20]}, "axis": {"orient": "bottom", "values": [0, 2, 4, 6, 8, 10, 12, 14, 16, 18, 20], "title": "σ⁽ᵍ⁾*"}},
            "y": {"field": "v", "type": "quantitative", "scale": {"domain": [-0.01, 0.002]}, "axis": {"orient": "left", "values": [-0.01, -0.008, -0.006, -0.004, -0.002, 0, 0.002], "format": "~f", "title": "ψ"}},
            "color": {"field": "series", "type": "nominal", "scale": {"domain": ["e1", "e2", "e3", "a1", "a2", "a3"], "range": ["#d8005a", "#0066b0", "#28c45c", "#d8005a", "#0066b0", "#28c45c"]}, "legend": null},
            "strokeDash": {"field": "series", "type": "nominal", "scale": {"domain": ["e1", "e2", "e3"], "range": [[1, 0], [9, 15], [4, 8]]}, "legend": null}}},
          {"transform": [{"fold": ["a1", "a2", "a3"], "as": ["series", "v"]}], "mark": {"type": "point", "size": 81, "strokeWidth": 1, "opacity": 1},
           "encoding": {
            "x": {"field": "x", "type": "quantitative", "scale": {"domain": [0, 20]}, "axis": {"orient": "top", "values": [0, 2, 4, 6, 8, 10, 12, 14, 16, 18, 20], "labels": false, "title": null}},
            "y": {"field": "v", "type": "quantitative", "scale": {"domain": [-0.01, 0.002]}, "axis": {"orient": "right", "values": [-0.01, -0.008, -0.006, -0.004, -0.002, 0, 0.002], "labels": false, "title": null}},
            "color": {"field": "series", "type": "nominal", "scale": {"domain": ["e1", "e2", "e3", "a1", "a2", "a3"], "range": ["#d8005a", "#0066b0", "#28c45c", "#d8005a", "#0066b0", "#28c45c"]}, "legend": null},
            "shape": {"field": "series", "type": "nominal", "scale": {"domain": ["a1", "a2", "a3"], "range": ["M-1,0L1,0M0,-1L0,1", "M-1,-1L1,1M-1,1L1,-1", "M-1,0L1,0M0,-1L0,1M-0.75,-0.75L0.75,0.75M-0.75,0.75L0.75,-0.75"]}, "legend": null}}}
         ],
         "resolve": {"axis": {"x": "independent", "y": "independent"}}},
        {"width": 541, "height": 63, "view": {"stroke": null}, "data": {"name": "key"},
         "encoding": {
          "x": {"field": "col", "type": "quantitative", "scale": {"domain": [-0.785, 1.0614]}, "axis": null},
          "y": {"field": "row", "type": "quantitative", "scale": {"domain": [2.5, -0.5]}, "axis": null}},
         "layer": [
          {"mark": {"type": "text", "align": "right", "baseline": "middle", "dx": -41}, "encoding": {"text": {"field": "label"}}},
          {"transform": [{"filter": {"field": "col", "equal": 0}}], "mark": {"type": "point", "shape": "stroke", "size": 3136, "strokeWidth": 2.5, "opacity": 1},
           "encoding": {
            "color": {"field": "series", "type": "nominal", "scale": {"domain": ["e1", "e2", "e3", "a1", "a2", "a3"], "range": ["#d8005a", "#0066b0", "#28c45c", "#d8005a", "#0066b0", "#28c45c"]}, "legend": null},
            "strokeDash": {"field": "series", "type": "nominal", "scale": {"domain": ["e1", "e2", "e3"], "range": [[1, 0], [9, 15], [4, 8]]}, "legend": null}}},
          {"transform": [{"filter": {"field": "col", "equal": 1}}], "mark": {"type": "point", "size": 81, "strokeWidth": 1, "opacity": 1},
           "encoding": {
            "color": {"field": "series", "type": "nominal", "scale": {"domain": ["e1", "e2", "e3", "a1", "a2", "a3"], "range": ["#d8005a", "#0066b0", "#28c45c", "#d8005a", "#0066b0", "#28c45c"]}, "legend": null},
            "shape": {"field": "series", "type": "nominal", "scale": {"domain": ["a1", "a2", "a3"], "range": ["M-1,0L1,0M0,-1L0,1", "M-1,-1L1,1M-1,1L1,-1", "M-1,0L1,0M0,-1L0,1M-0.75,-0.75L0.75,0.75M-0.75,0.75L0.75,-0.75"]}, "legend": null}}}
         ]}
      ]},
      {"bounds": "flush", "spacing": 62, "vconcat": [
        {"width": 529, "height": 266, "title": "N\u2002=\u20021000, ξ\u2002=\u200210, x⁽ᵍ⁾\u2002=\u20021, r⁽ᵍ⁾\u2002=\u20020.316228, τ\u2002=\u20021/√2N", "data": {"name": "p6"},
         "layer": [
          {"transform": [{"fold": ["e1", "e2", "e3"], "as": ["series", "v"]}], "mark": {"type": "line", "strokeWidth": 2.5},
           "encoding": {
            "x": {"field": "x", "type": "quantitative", "scale": {"domain": [0, 20]}, "axis": {"orient": "bottom", "values": [0, 2, 4, 6, 8, 10, 12, 14, 16, 18, 20], "title": "σ⁽ᵍ⁾*"}},
            "y": {"field": "v", "type": "quantitative", "scale": {"domain": [-0.004, 0.0015]}, "axis": {"orient": "left", "values": [-0.004, -0.0035, -0.003, -0.0025, -0.002, -0.0015, -0.001, -0.0005, 0, 0.0005, 0.001, 0.0015], "format": "~f", "title": "ψ"}},
            "color": {"field": "series", "type": "nominal", "scale": {"domain": ["e1", "e2", "e3", "a1", "a2", "a3"], "range": ["#d8005a", "#0066b0", "#28c45c", "#d8005a", "#0066b0", "#28c45c"]}, "legend": null},
            "strokeDash": {"field": "series", "type": "nominal", "scale": {"domain": ["e1", "e2", "e3"], "range": [[1, 0], [9, 15], [4, 8]]}, "legend": null}}},
          {"transform": [{"fold": ["a1", "a2", "a3"], "as": ["series", "v"]}], "mark": {"type": "point", "size": 81, "strokeWidth": 1, "opacity": 1},
           "encoding": {
            "x": {"field": "x", "type": "quantitative", "scale": {"domain": [0, 20]}, "axis": {"orient": "top", "values": [0, 2, 4, 6, 8, 10, 12, 14, 16, 18, 20], "labels": false, "title": null}},
            "y": {"field": "v", "type": "quantitative", "scale": {"domain": [-0.004, 0.0015]}, "axis": {"orient": "right", "values": [-0.004, -0.0035, -0.003, -0.0025, -0.002, -0.0015, -0.001, -0.0005, 0, 0.0005, 0.001, 0.0015], "labels": false, "title": null}},
            "color": {"field": "series", "type": "nominal", "scale": {"domain": ["e1", "e2", "e3", "a1", "a2", "a3"], "range": ["#d8005a", "#0066b0", "#28c45c", "#d8005a", "#0066b0", "#28c45c"]}, "legend": null},
            "shape": {"field": "series", "type": "nominal", "scale": {"domain": ["a1", "a2", "a3"], "range": ["M-1,0L1,0M0,-1L0,1", "M-1,-1L1,1M-1,1L1,-1", "M-1,0L1,0M0,-1L0,1M-0.75,-0.75L0.75,0.75M-0.75,0.75L0.75,-0.75"]}, "legend": null}}}
         ],
         "resolve": {"axis": {"x": "independent", "y": "independent"}}},
        {"width": 529, "height": 63, "view": {"stroke": null}, "data": {"name": "key"},
         "encoding": {
          "x": {"field": "col", "type": "quantitative", "scale": {"domain": [-0.744, 1.037]}, "axis": null},
          "y": {"field": "row", "type": "quantitative", "scale": {"domain": [2.5, -0.5]}, "axis": null}},
         "layer": [
          {"mark": {"type": "text", "align": "right", "baseline": "middle", "dx": -41}, "encoding": {"text": {"field": "label"}}},
          {"transform": [{"filter": {"field": "col", "equal": 0}}], "mark": {"type": "point", "shape": "stroke", "size": 3136, "strokeWidth": 2.5, "opacity": 1},
           "encoding": {
            "color": {"field": "series", "type": "nominal", "scale": {"domain": ["e1", "e2", "e3", "a1", "a2", "a3"], "range": ["#d8005a", "#0066b0", "#28c45c", "#d8005a", "#0066b0", "#28c45c"]}, "legend": null},
            "strokeDash": {"field": "series", "type": "nominal", "scale": {"domain": ["e1", "e2", "e3"], "range": [[1, 0], [9, 15], [4, 8]]}, "legend": null}}},
          {"transform": [{"filter": {"field": "col", "equal": 1}}], "mark": {"type": "point", "size": 81, "strokeWidth": 1, "opacity": 1},
           "encoding": {
            "color": {"field": "series", "type": "nominal", "scale": {"domain": ["e1", "e2", "e3", "a1", "a2", "a3"], "range": ["#d8005a", "#0066b0", "#28c45c", "#d8005a", "#0066b0", "#28c45c"]}, "legend": null},
            "shape": {"field": "series", "type": "nominal", "scale": {"domain": ["a1", "a2", "a3"], "range": ["M-1,0L1,0M0,-1L0,1", "M-1,-1L1,1M-1,1L1,-1", "M-1,0L1,0M0,-1L0,1M-0.75,-0.75L0.75,0.75M-0.75,0.75L0.75,-0.75"]}, "legend": null}}}
         ]}
      ]}
    ]}
  ]
}
